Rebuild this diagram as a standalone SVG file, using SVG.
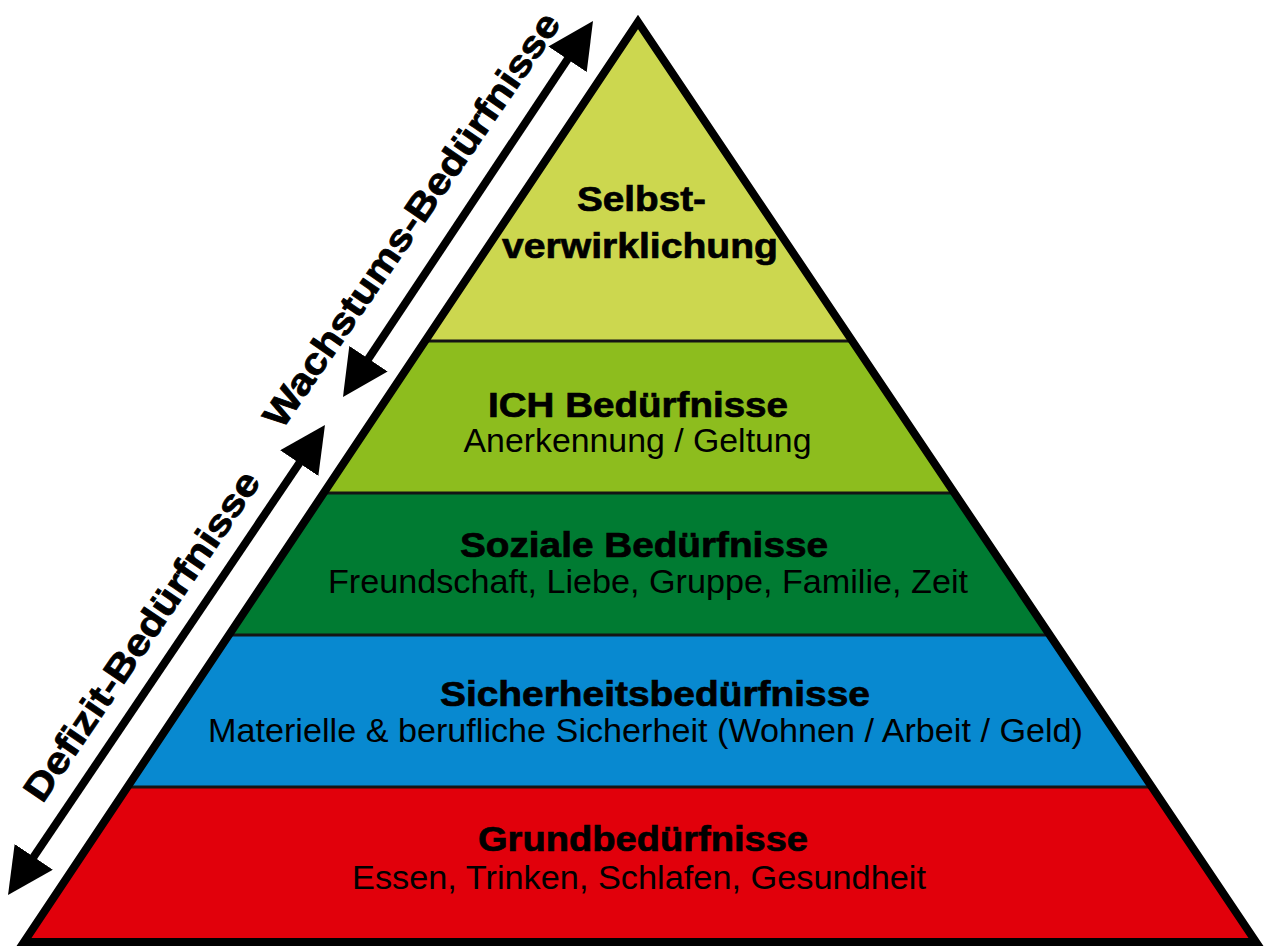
<svg xmlns="http://www.w3.org/2000/svg" width="1265" height="951" viewBox="0 0 1265 951">
<defs>
<style>
.b{font-family:"Liberation Sans",Arial,sans-serif;font-weight:bold;font-size:35px;fill:#000;stroke:#000;stroke-width:0.7;text-anchor:middle}
.r{font-family:"Liberation Sans",Arial,sans-serif;font-size:32.5px;fill:#000;text-anchor:middle}
.side{font-family:"Liberation Sans",Arial,sans-serif;font-weight:bold;font-size:37px;fill:#000;stroke:#000;stroke-width:0.8;text-anchor:middle}
.div{stroke:#141414;stroke-width:3;fill:none}
.arr{stroke:#000;stroke-width:8;fill:none;marker-start:url(#ah);marker-end:url(#ah)}
</style>
<marker id="ah" markerUnits="userSpaceOnUse" markerWidth="46" markerHeight="46" refX="16" refY="23" orient="auto-start-reverse" viewBox="0 0 46 46">
<path d="M0,0 L46,23 L0,46 z" fill="#000"/>
</marker>
</defs>
<rect width="1265" height="951" fill="#fff"/>

<g id="level5-selbstverwirklichung">
<polygon points="638,22 852.3,341 425.1,341" fill="#ccd74f"/>
<text class="b" x="641.5" y="211" textLength="129" lengthAdjust="spacingAndGlyphs">Selbst-</text>
<text class="b" x="640" y="258" textLength="276" lengthAdjust="spacingAndGlyphs">verwirklichung</text>
</g>
<g id="level4-ich">
<polygon points="425.1,341 852.3,341 954.4,493 323.7,493" fill="#8dbd1e"/>
<text class="b" x="638" y="417" textLength="300" lengthAdjust="spacingAndGlyphs">ICH Bedürfnisse</text>
<text class="r" x="637.5" y="452" textLength="348" lengthAdjust="spacingAndGlyphs">Anerkennung / Geltung</text>
</g>
<g id="level3-soziale">
<polygon points="323.7,493 954.4,493 1049.8,635 228.9,635" fill="#007b32"/>
<text class="b" x="644" y="557" textLength="368" lengthAdjust="spacingAndGlyphs">Soziale Bedürfnisse</text>
<text class="r" x="648" y="593" textLength="640" lengthAdjust="spacingAndGlyphs">Freundschaft, Liebe, Gruppe, Familie, Zeit</text>
</g>
<g id="level2-sicherheit">
<polygon points="228.9,635 1049.8,635 1151.9,787 127.4,787" fill="#0889d0"/>
<text class="b" x="655" y="706" textLength="430" lengthAdjust="spacingAndGlyphs">Sicherheitsbedürfnisse</text>
<text class="r" x="645.5" y="742" textLength="875" lengthAdjust="spacingAndGlyphs">Materielle &amp; berufliche Sicherheit (Wohnen / Arbeit / Geld)</text>
</g>
<g id="level1-grund">
<polygon points="127.4,787 1151.9,787 1256,942 24,942" fill="#e1000b"/>
<text class="b" x="643" y="851" textLength="330" lengthAdjust="spacingAndGlyphs">Grundbedürfnisse</text>
<text class="r" x="639" y="889" textLength="574" lengthAdjust="spacingAndGlyphs">Essen, Trinken, Schlafen, Gesundheit</text>
</g>
<g id="pyramid-outline">
<line class="div" x1="425.1" y1="341" x2="852.3" y2="341"/>
<line class="div" x1="323.7" y1="493" x2="954.4" y2="493"/>
<line class="div" x1="228.9" y1="635" x2="1049.8" y2="635"/>
<line class="div" x1="127.4" y1="787" x2="1151.9" y2="787"/>
<polygon points="638,22 1256,942 24,942" fill="none" stroke="#000" stroke-width="8" stroke-linejoin="miter" stroke-miterlimit="10"/>
</g>
<g id="connectors">
<line class="arr" x1="24.8" y1="870.1" x2="308.2" y2="449.9"/>
<line class="arr" x1="359.6" y1="372" x2="576.4" y2="46"/>
</g>
<g id="label-defizit">
<text class="side" transform="translate(152,643) rotate(-55.8)" textLength="390" lengthAdjust="spacingAndGlyphs">Defizit-Bedürfnisse</text>
</g>
<g id="label-wachstum">
<text class="side" transform="translate(422,227) rotate(-55.5)" textLength="494" lengthAdjust="spacingAndGlyphs">Wachstums-Bedürfnisse</text>
</g>
</svg>
